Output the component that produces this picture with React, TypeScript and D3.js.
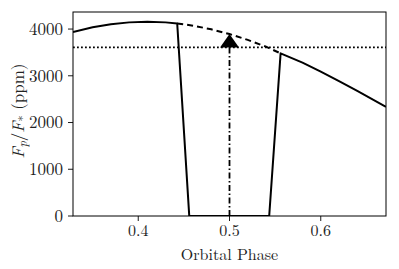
import React from 'react';
import * as d3 from 'd3';

// solid observed light curve (with secondary eclipse)
const obsPhase = [0.3285, 0.35, 0.37, 0.39, 0.41, 0.43, 0.4427, 0.4559, 0.5435, 0.556, 0.58, 0.6, 0.62, 0.64, 0.6715];
const obsFlux = [3939, 4037, 4103, 4143, 4156, 4143, 4120, 0, 0, 3480, 3281, 3089, 2887, 2679, 2335];

// dashed planet flux hidden during eclipse
const hidPhase = [0.4427, 0.46, 0.48, 0.5, 0.52, 0.54, 0.556];
const hidFlux = [4120, 4073, 3995, 3893, 3768, 3623, 3480];

const eclipseDepth = 3606;
const arrowPhase = 0.5;
const arrowTop = 3893;

const xTicks = [0.4, 0.5, 0.6];
const yTicks = [0, 1000, 2000, 3000, 4000];

const W = 399;
const H = 269;
const margin = { top: 12, right: 13, bottom: 53, left: 73 };
const font = "'Latin Modern Roman', 'CMU Serif', 'DejaVu Serif', serif";
const fs = 16;

export default function App() {
  const iw = W - margin.left - margin.right;
  const ih = H - margin.top - margin.bottom;
  const x = d3.scaleLinear().domain([0.3285, 0.6715]).range([0, iw]);
  const y = d3.scaleLinear().domain([0, 4365]).range([ih, 0]);
  const line = d3.line<number>().x((d, i) => x(obsPhase[i])).y(d => y(d));
  const hidLine = d3.line<number>().x((d, i) => x(hidPhase[i])).y(d => y(d));

  const ax = x(arrowPhase);
  const tipY = y(arrowTop);
  const baseY = y(eclipseDepth);

  return (
    <svg width={W} height={H} style={{ position: 'absolute', left: 0, top: 0, background: '#fff' }}>
      <g transform={`translate(${margin.left},${margin.top})`}>
        <defs>
          <clipPath id="clip">
            <rect x={0} y={0} width={iw} height={ih} />
          </clipPath>
        </defs>
        <g clipPath="url(#clip)">
          <line x1={0} x2={iw} y1={y(eclipseDepth)} y2={y(eclipseDepth)} stroke="#000" strokeWidth={1.8} strokeDasharray="1.8,2.2" />
          <path d={hidLine(hidFlux) || ''} fill="none" stroke="#000" strokeWidth={2} strokeDasharray="6,4" />
          <path d={line(obsFlux) || ''} fill="none" stroke="#000" strokeWidth={2} strokeLinejoin="round" />
          <line x1={ax} x2={ax} y1={ih} y2={baseY} stroke="#000" strokeWidth={1.8} strokeDasharray="6,2.5,1.5,2.5" />
          <path d={`M${ax},${tipY}L${ax - 9.5},${baseY}L${ax + 9.5},${baseY}Z`} fill="#000" />
        </g>
        <rect x={0} y={0} width={iw} height={ih} fill="none" stroke="#000" strokeWidth={1} />
        {xTicks.map(t => (
          <g key={t} transform={`translate(${x(t)},${ih})`}>
            <line y1={0} y2={5} stroke="#000" strokeWidth={0.9} />
            <text y={20} textAnchor="middle" fontFamily={font} fontSize={fs} fill="#222">{t.toFixed(1)}</text>
          </g>
        ))}
        {yTicks.map(t => (
          <g key={t} transform={`translate(0,${y(t)})`}>
            <line x1={0} x2={-5} stroke="#000" strokeWidth={0.9} />
            <text x={-10} dy="0.35em" textAnchor="end" fontFamily={font} fontSize={17} fill="#222">{t}</text>
          </g>
        ))}
        <text x={iw / 2} y={ih + 43.5} textAnchor="middle" fontFamily={font} fontSize={fs} fill="#222">Orbital Phase</text>
      </g>
      <text transform={`translate(24,${111}) rotate(-90)`} textAnchor="middle" fontFamily={font} fontSize={17} fill="#222">
        <tspan fontStyle="italic">F</tspan>
        <tspan fontStyle="italic" fontSize={12} dy={3}>p</tspan>
        <tspan dy={-3}>/</tspan>
        <tspan fontStyle="italic">F</tspan>
        <tspan fontSize={12} dy={3}>*</tspan>
        <tspan dy={-3}> (ppm)</tspan>
      </text>
    </svg>
  );
}
